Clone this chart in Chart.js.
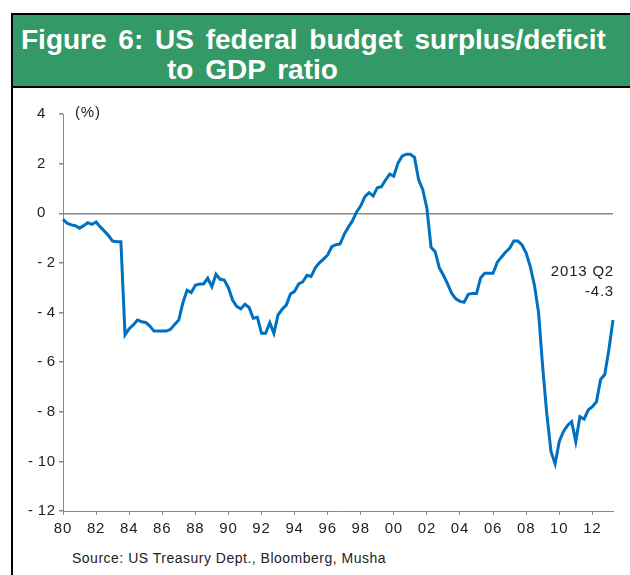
<!DOCTYPE html>
<html>
<head>
<meta charset="utf-8">
<title>US federal budget surplus/deficit to GDP ratio</title>
<script src="https://cdn.jsdelivr.net/npm/chart.js@4.4.1/dist/chart.umd.min.js"></script>
<style>
    html, body {
        margin: 0;
        padding: 0;
        background: #fff;
    }
    #page {
        position: relative;
        width: 630px;
        height: 575px;
        overflow: hidden;
        font-family: 'Liberation Sans', Arial, sans-serif;
    }
    #frame {
        position: absolute;
        left: 11px;
        top: 13px;
        width: 700px;
        height: 700px;
        border-left: 2px solid #000;
        border-top: 2px solid #000;
    }
    #header {
        position: absolute;
        left: 13px;
        top: 15px;
        width: 700px;
        height: 71px;
        background: #339966;
        border-bottom: 2px solid #000;
    }
    .title {
        position: absolute;
        color: #fff;
        font-weight: bold;
        font-size: 28px;
        line-height: 28px;
        word-spacing: 4px;
        white-space: nowrap;
    }
    #source {
        position: absolute;
        left: 72px;
        top: 550px;
        font-size: 14px;
        line-height: 16px;
        letter-spacing: 0.5px;
        color: #222;
        white-space: nowrap;
    }
    #myChart {
        position: absolute;
        left: 0;
        top: 0;
    }
</style>
</head>
<body>
<div id="page">
    <div id="frame"></div>
    <div id="header"></div>
    <div class="title" style="left: 21px; top: 26px;">Figure 6: US federal budget surplus/deficit</div>
    <div class="title" style="left: 167px; top: 56px;">to GDP ratio</div>
    <div id="source">Source: US Treasury Dept., Bloomberg, Musha</div>
    <canvas id="myChart" width="630" height="575"></canvas>
</div>

<script>
// quarterly, 1980 Q1 .. 2013 Q2 (%)
var startYear = 1980;
var deficitRatio = [
    -0.25, -0.4, -0.47, -0.5,       // 1980
    -0.6, -0.5, -0.38, -0.45,       // 1981
    -0.35, -0.55, -0.72, -0.9,      // 1982
    -1.12, -1.15, -1.15, -4.9,      // 1983
    -4.65, -4.5, -4.3, -4.37,       // 1984
    -4.4, -4.55, -4.75, -4.75,      // 1985
    -4.75, -4.75, -4.68, -4.48,     // 1986
    -4.3, -3.6, -3.1, -3.2,         // 1987
    -2.9, -2.85, -2.85, -2.62,      // 1988
    -2.96, -2.46, -2.66, -2.69,     // 1989
    -3.0, -3.5, -3.75, -3.85,       // 1990
    -3.67, -3.8, -4.23, -4.19,      // 1991
    -4.84, -4.84, -4.41, -4.84,     // 1992
    -4.1, -3.87, -3.7, -3.25,       // 1993
    -3.15, -2.85, -2.76, -2.5,      // 1994
    -2.55, -2.2, -2.0, -1.85,       // 1995
    -1.68, -1.35, -1.27, -1.24,     // 1996
    -0.85, -0.56, -0.3, 0.05,       // 1997
    0.3, 0.67, 0.83, 0.7,           // 1998
    1.03, 1.07, 1.34, 1.58,         // 1999
    1.5, 2.02, 2.3, 2.38,           // 2000
    2.38, 2.25, 1.35, 0.95,         // 2001
    0.2, -1.37, -1.55, -2.2,        // 2002
    -2.5, -2.85, -3.23, -3.45,      // 2003
    -3.55, -3.59, -3.27, -3.23,     // 2004
    -3.23, -2.6, -2.42, -2.42,      // 2005
    -2.42, -1.98, -1.77, -1.57,     // 2006
    -1.41, -1.12, -1.12, -1.28,     // 2007
    -1.6, -2.15, -2.9, -4.0,        // 2008
    -6.2, -8.1, -9.6, -10.1,        // 2009
    -9.2, -8.8, -8.55, -8.4,        // 2010
    -9.2, -8.2, -8.3, -7.93,        // 2011
    -7.8, -7.6, -6.7, -6.5,         // 2012
    -5.5, -4.3                      // 2013
];
var xTickYears = [1980, 1982, 1984, 1986, 1988, 1990, 1992, 1994, 1996, 1998,
                  2000, 2002, 2004, 2006, 2008, 2010, 2012];
var yTickValues = [4, 2, 0, -2, -4, -6, -8, -10, -12];
var lastLabel = '2013 Q2';
var unitLabel = '(%)';

var points = deficitRatio.map(function(v, i) {
    return { x: startYear + i / 4, y: v };
});
var lastX = startYear + (deficitRatio.length - 1) / 4;

var tickFont = { family: "'Liberation Sans', Arial, sans-serif", size: 15 };

function yLabel(v) {
    if (v < 0) return '-\u2009' + Math.abs(v);
    return v + '  ';
}

// extra text: unit label and the last value note
var notesPlugin = {
    id: 'notes',
    beforeDraw: function(chart) {
        chart.ctx.letterSpacing = '0.8px';
    },
    afterDraw: function(chart) {
        var c = chart.ctx;
        var area = chart.chartArea;
        var yScale = chart.scales.y;
        var last = deficitRatio[deficitRatio.length - 1];
        var py = yScale.getPixelForValue(last);

        c.save();
        c.fillStyle = '#222';
        c.font = "15px 'Liberation Sans', Arial, sans-serif";
        c.textBaseline = 'middle';

        c.textAlign = 'left';
        c.fillText(unitLabel, area.left + 12, yScale.getPixelForValue(4) - 1);

        c.textAlign = 'right';
        c.fillText(lastLabel, area.right + 1, py - 48);
        c.fillText(String(last), area.right + 1, py - 28);
        c.restore();
    }
};

var ctx = document.getElementById('myChart').getContext('2d');
var myChart = new Chart(ctx, {
    type: 'line',
    data: {
        datasets: [{
            data: points,
            borderColor: '#0070C0',
            borderWidth: 3,
            pointRadius: 0,
            tension: 0,
            fill: false,
            clip: 6
        }]
    },
    options: {
        responsive: false,
        animation: false,
        events: [],
        layout: {
            padding: { left: 8, top: 114, right: 17, bottom: 34 }
        },
        plugins: {
            legend: { display: false },
            tooltip: { enabled: false }
        },
        scales: {
            x: {
                type: 'linear',
                min: startYear,
                max: lastX,
                afterBuildTicks: function(scale) {
                    scale.ticks = xTickYears.map(function(v) { return { value: v }; });
                },
                afterFit: function(scale) {
                    scale.height = 30;
                },
                ticks: {
                    autoSkip: false,
                    maxRotation: 0,
                    padding: 5,
                    color: '#222',
                    font: tickFont,
                    callback: function(v) {
                        return String(v).slice(2);
                    }
                },
                grid: {
                    drawOnChartArea: false,
                    tickLength: 4,
                    color: '#888'
                },
                border: { color: '#888', width: 1 }
            },
            y: {
                min: -12,
                max: 4,
                afterBuildTicks: function(scale) {
                    scale.ticks = yTickValues.map(function(v) { return { value: v }; });
                },
                afterFit: function(scale) {
                    scale.width = 55;
                },
                ticks: {
                    padding: 3,
                    color: '#222',
                    font: tickFont,
                    callback: yLabel
                },
                grid: {
                    color: function(c) {
                        return c.tick && c.tick.value === 0 ? '#888' : 'rgba(0,0,0,0)';
                    },
                    tickColor: '#888',
                    tickLength: 4,
                    lineWidth: 1.5
                },
                border: { color: '#888', width: 1 }
            }
        }
    },
    plugins: [notesPlugin]
});
</script>
</body>
</html>
